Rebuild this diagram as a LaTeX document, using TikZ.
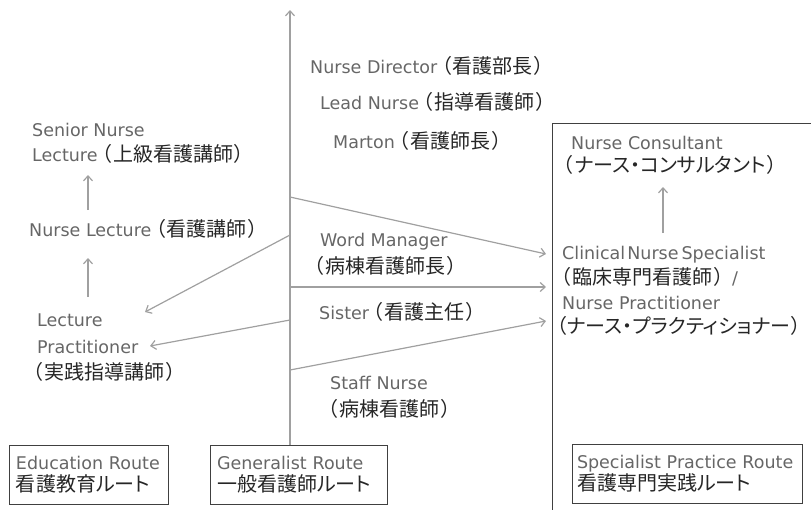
\documentclass[tikz,border=0pt]{standalone}
\usepackage{fontspec}
\setmainfont{DejaVu Sans}
\newfontfamily\jp[RawFeature=+palt,Scale=1.143]{Noto Sans CJK JP}
\usetikzlibrary{arrows.meta}
\definecolor{linegray}{HTML}{A0A0A0}
\definecolor{latc}{HTML}{666666}
\definecolor{jpc}{HTML}{262626}
\definecolor{boxc}{HTML}{404040}
\newcommand\jt[1]{{\jp\color{jpc}#1}}
\newcommand\LP{\kern4pt{\jp\color{jpc}（}\kern1.5pt}
\newcommand\RP{\kern1.5pt{\jp\color{jpc}）}\kern2pt}
\begin{document}
\begin{tikzpicture}[x=1pt,y=-1pt,
  lbl/.style={anchor=west,inner sep=0pt,text=latc,font=\fontsize{17.5}{22}\selectfont,text height=16pt,text depth=3pt},
  conn/.style={draw=linegray,line width=1.2pt,-{Straight Barb[length=5pt,width=9pt,line width=1.2pt]}},
  routebox/.style={draw=boxc,line width=1pt,align=left,text=latc,font=\fontsize{17.5}{22}\selectfont,inner xsep=7pt,minimum height=59pt},
  frame/.style={draw=boxc,line width=1pt}]
\useasboundingbox (0,0) rectangle (811,509);

% specialist frame (runs off the right and bottom edges)
\draw[frame] (552,123) rectangle (840,540);

% route boxes
\node[routebox,text width=145pt] (edu) at (88.5,474.5) {\mbox{Education Route}\\\jt{看護教育ルート}};
\node[routebox,text width=163pt] (gen) at (298.5,474.5) {\mbox{Generalist Route}\\\jt{一般看護師ルート}};
\node[routebox,text width=220pt,inner xsep=5pt] (spr) at (687,474) {\mbox{Specialist Practice Route}\\\jt{看護専門実践ルート}};

% generalist column
\node[lbl] (dir) at (310,67) {Nurse Director\LP\jt{看護部長}\RP};
\node[lbl] (lead) at (320,103) {Lead Nurse\LP\jt{指導看護師}\RP};
\node[lbl] (mart) at (333,142) {Marton\LP\jt{看護師長}\RP};
\node[lbl] (wm1) at (320,240) {Word Manager};
\node[lbl] (wm2) at (310,267) {\LP\jt{病棟看護師長}\RP};
\node[lbl] (sis) at (319,313) {Sister\LP\jt{看護主任}\RP};
\node[lbl] (sn1) at (330,383) {Staff Nurse};
\node[lbl] (sn2) at (324,410) {\LP\jt{病棟看護師}\RP};

% education column
\node[lbl] (snl1) at (32,130) {Senior Nurse};
\node[lbl] (snl2) at (32,155) {Lecture\LP\jt{上級看護講師}\RP};
\node[lbl] (nl) at (29,230) {Nurse Lecture\LP\jt{看護講師}\RP};
\node[lbl] (lp1) at (37,320) {Lecture};
\node[lbl] (lp2) at (37,347) {Practitioner};
\node[lbl] (lp3) at (29,373) {\LP\jt{実践指導講師}\RP};

% specialist column
\node[lbl] (nc1) at (571,143) {Nurse Consultant};
\node[lbl] (nc2) at (559,166) {\LP\jt{ナース・コンサルタント}\RP};
\node[lbl] (cns1) at (562,253) {Clinical\hspace{2pt}Nurse\hspace{3pt}Specialist};
\node[lbl] (cns2) at (557,278) {\LP\jt{臨床専門看護師}\RP\kern6pt/};
\node[lbl] (np1) at (562,303) {Nurse Practitioner};
\node[lbl] (np2) at (556.5,327) {\jt{（ナース・プラクティショナー）}};

% coordinates
\coordinate (vtop) at (290,10);
\coordinate (b1) at (290,197);
\coordinate (b2) at (290,235);
\coordinate (b3) at (290,287);
\coordinate (b4) at (290,320);
\coordinate (b5) at (290,370);
\coordinate (t1) at (546,254);
\coordinate (t2) at (546,287);
\coordinate (t3) at (546,321);
\coordinate (l1) at (145,312);
\coordinate (l2) at (150,346);
\coordinate (ea1) at (88,297);
\coordinate (ea2) at (88,258);
\coordinate (ea3) at (88,210);
\coordinate (ea4) at (88,175);
\coordinate (sa1) at (663,233);
\coordinate (sa2) at (663,187);

% connectors
\draw[conn] (gen.north -| vtop) -- (vtop);
\draw[conn] (b1) -- (t1);
\draw[conn] (b3) -- (t2);
\draw[conn] (b5) -- (t3);
\draw[conn] (b2) -- (l1);
\draw[conn] (b4) -- (l2);
\draw[conn] (ea1) -- (ea2);
\draw[conn] (ea3) -- (ea4);
\draw[conn] (sa1) -- (sa2);
\end{tikzpicture}
\end{document}
